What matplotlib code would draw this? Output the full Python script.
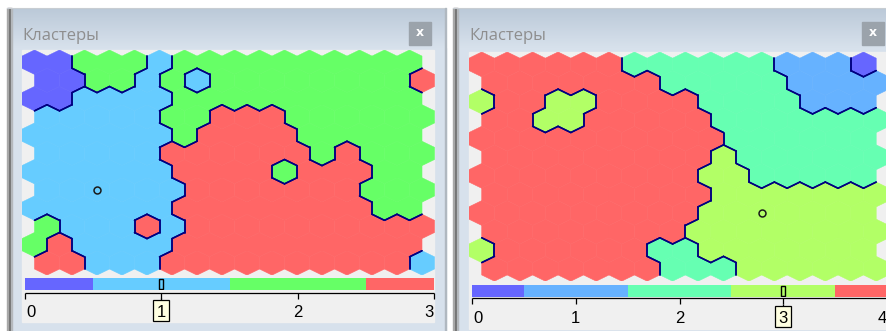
import matplotlib.pyplot as plt
import numpy as np
from matplotlib.collections import PolyCollection, LineCollection
from matplotlib.patches import Rectangle

W, H = 886, 331

title = 'Кластеры'

# cluster of every cell of the 16 x 12 map, top row first
left_cells = [
    [0, 0, 2, 2, 2, 1, 2, 2, 2, 2, 2, 2, 2, 2, 2, 2],
    [0, 0, 2, 2, 1, 2, 1, 2, 2, 2, 2, 2, 2, 2, 2, 3],
    [0, 0, 1, 1, 1, 1, 2, 2, 2, 2, 2, 2, 2, 2, 2, 2],
    [1, 1, 1, 1, 1, 2, 2, 3, 3, 3, 2, 2, 2, 2, 2, 2],
    [1, 1, 1, 1, 1, 1, 2, 3, 3, 3, 3, 2, 2, 2, 2, 2],
    [1, 1, 1, 1, 1, 3, 3, 3, 3, 3, 3, 2, 3, 2, 2, 2],
    [1, 1, 1, 1, 1, 1, 3, 3, 3, 3, 2, 3, 3, 3, 2, 2],
    [1, 1, 1, 1, 1, 1, 3, 3, 3, 3, 3, 3, 3, 2, 2, 2],
    [1, 1, 1, 1, 1, 1, 3, 3, 3, 3, 3, 3, 3, 3, 2, 2],
    [2, 1, 1, 1, 3, 1, 3, 3, 3, 3, 3, 3, 3, 3, 3, 3],
    [2, 3, 1, 1, 1, 1, 3, 3, 3, 3, 3, 3, 3, 3, 3, 3],
    [3, 3, 1, 1, 1, 3, 3, 3, 3, 3, 3, 3, 3, 3, 3, 1],
]
right_cells = [
    [4, 4, 4, 4, 4, 4, 2, 2, 2, 2, 2, 2, 1, 1, 1, 0],
    [4, 4, 4, 4, 4, 4, 4, 2, 2, 2, 2, 2, 1, 1, 1, 1],
    [3, 4, 4, 3, 3, 4, 4, 4, 4, 2, 2, 2, 2, 1, 1, 1],
    [4, 4, 3, 3, 4, 4, 4, 4, 4, 2, 2, 2, 2, 2, 2, 2],
    [4, 4, 4, 4, 4, 4, 4, 4, 4, 4, 2, 2, 2, 2, 2, 2],
    [4, 4, 4, 4, 4, 4, 4, 4, 4, 3, 2, 2, 2, 2, 2, 2],
    [4, 4, 4, 4, 4, 4, 4, 4, 4, 3, 3, 2, 2, 2, 2, 2],
    [4, 4, 4, 4, 4, 4, 4, 4, 4, 3, 3, 3, 3, 3, 3, 3],
    [4, 4, 4, 4, 4, 4, 4, 4, 4, 3, 3, 3, 3, 3, 3, 3],
    [4, 4, 4, 4, 4, 4, 4, 4, 3, 3, 3, 3, 3, 3, 3, 3],
    [3, 4, 4, 4, 4, 4, 4, 2, 2, 3, 3, 3, 3, 3, 3, 3],
    [4, 4, 4, 4, 4, 4, 4, 2, 2, 2, 3, 3, 3, 3, 3, 3],
]
left_colors = ['#6666FF', '#66CCFF', '#66FF66', '#FF6666']
right_colors = ['#6666FF', '#66B2FF', '#66FFB2', '#B2FF66', '#FF6666']

left_marker = (7, 2)     # row, col
right_marker = (8, 11)
left_selected = 1
right_selected = 3

ROW_STEP = 0.73
HEX_H = 0.974


def px(x0, y0, w, h):
    return [x0 / W, 1 - (y0 + h) / H, w / W, h / H]


def hex_center(r, c):
    return c + 0.5 * (r % 2), r * ROW_STEP


def hex_verts(cx, cy):
    return [(cx, cy - HEX_H / 2), (cx + .5, cy - HEX_H / 4), (cx + .5, cy + HEX_H / 4),
            (cx, cy + HEX_H / 2), (cx - .5, cy + HEX_H / 4), (cx - .5, cy - HEX_H / 4)]


def draw_map(ax, cells, colors, marker):
    nr, nc = len(cells), len(cells[0])
    polys, fcs, segs = [], [], []
    for r in range(nr):
        odd = r % 2
        for c in range(nc):
            k = cells[r][c]
            v = hex_verts(*hex_center(r, c))
            polys.append(v)
            fcs.append(colors[k])
            # neighbours across edges v0-v1, v1-v2, ... v5-v0
            nb = [(r - 1, c + odd), (r, c + 1), (r + 1, c + odd),
                  (r + 1, c - 1 + odd), (r, c - 1), (r - 1, c - 1 + odd)]
            for i, (rr, cc) in enumerate(nb):
                if 0 <= rr < nr and 0 <= cc < nc and cells[rr][cc] != k:
                    segs.append([v[i], v[(i + 1) % 6]])
    ax.add_collection(PolyCollection(polys, facecolors=fcs, edgecolors=fcs, linewidths=0.4))
    ax.add_collection(LineCollection(segs, colors='#000080', linewidths=1.1, capstyle='round'))
    mx, my = hex_center(*marker)
    ax.plot(mx, my, 'o', ms=5, mfc='none', mec='#1a1a1a', mew=1.1)
    ax.set_xlim(-0.5, nc)
    ax.set_ylim((nr - 1) * ROW_STEP + HEX_H / 2, -HEX_H / 2)
    ax.axis('off')


def panel(fig, bg, fx0, fx1, mx0, my0, hexw, cb_y, cb_h, ax_y, lab_base, gray_bot,
          cb_x0, cb_x1, cells, colors, marker, selected, btn_x):
    # window frame
    grad = np.linspace(0, 1, 60)[:, None]
    top = np.array([0xBB, 0xC9, 0xD8]) / 255
    bot = np.array([0xD7, 0xE1, 0xEC]) / 255
    img = top + (bot - top) * grad[:, :, None]
    img = np.repeat(img, 2, axis=1)
    bg.imshow(img, extent=[fx0 + 5, fx1, 48, 8], aspect='auto', zorder=1)
    bg.add_patch(Rectangle((fx0 + 5, 48), fx1 - fx0 - 5, H - 48, color='#D7E1EC', zorder=1))
    bg.add_patch(Rectangle((fx0 + 1, 7.5), 3, H, color='#6B6B6B', zorder=2))
    bg.add_patch(Rectangle((fx0, 7.5), 1, H, color='#A8A8A8', zorder=2))
    bg.add_patch(Rectangle((fx0 + 4, 7.5), 1.5, H, color='#B4B8BC', zorder=2))
    bg.plot([fx0, fx1], [7.5, 7.5], color='#C8CDD2', lw=0.8, zorder=2)
    bg.text(mx0, 40, title, fontsize=12, color='#8E8E8E', family='Open Sans',
            ha='left', va='baseline', zorder=3)
    bg.add_patch(Rectangle((btn_x, 21.5), 22, 23, color='#9BA3AB', zorder=3))
    bg.text(btn_x + 11, 33, 'x', fontsize=9, color='white', weight='bold',
            family='DejaVu Sans', ha='center', va='center', zorder=4)

    nr, nc = len(cells), len(cells[0])
    mw = (nc + 0.5) * hexw
    mh = ((nr - 1) * ROW_STEP + HEX_H) * hexw
    bg.add_patch(Rectangle((mx0, my0), fx1 + 40 - mx0 if fx1 >= W else mw, gray_bot - my0,
                           color='#F0F0F0', zorder=2))

    ax = fig.add_axes(px(mx0, my0, mw, mh))
    draw_map(ax, cells, colors, marker)

    n = len(colors)
    cw = cb_x1 - cb_x0
    cax = fig.add_axes(px(cb_x0, cb_y, cw, cb_h))
    for i in range(n):
        cax.axvspan(i - 0.5, i + 0.5, color=colors[i], lw=0)
    unit = cw / (n - 1)
    cax.add_patch(Rectangle((selected - 2 / unit, 0.06), 4 / unit, 0.88, fc='none',
                            ec='black', lw=1.0))
    cax.set_xlim(0, n - 1)
    cax.set_ylim(0, 1)
    cax.axis('off')

    tax = fig.add_axes(px(cb_x0, ax_y, cw, gray_bot - ax_y))
    tax.set_xlim(0, n - 1)
    tax.set_ylim(gray_bot, ax_y)
    tax.axis('off')
    tax.plot([0, n - 1], [ax_y + 0.5, ax_y + 0.5], color='black', lw=0.9, clip_on=False,
             solid_capstyle='butt')
    ticks = np.arange(n)
    tax.vlines(ticks, ax_y + 0.5, ax_y + 6.5, color='black', lw=0.9, clip_on=False)
    for t in ticks:
        ha = 'center'
        if t == 0:
            ha = 'left'
        elif t == n - 1:
            ha = 'right'
        tx = t + (1 / unit if t == 0 else 0)
        if t == selected:
            tax.vlines(t, ax_y + 6, ax_y + 8, color='black', lw=0.9, clip_on=False)
            tax.add_patch(Rectangle((t - 8 / unit, ax_y + 8), 16 / unit, 21, fc='#FFFFE1',
                                    ec='black', lw=0.9, clip_on=False))
        tax.text(tx, lab_base, str(t), fontsize=12, family='Liberation Sans',
                 ha=ha, va='baseline', color='black', clip_on=False)


fig = plt.figure(figsize=(W / 100, H / 100), dpi=100)
bg = fig.add_axes([0, 0, 1, 1])
bg.set_xlim(0, W)
bg.set_ylim(H, 0)
bg.axis('off')
bg.add_patch(Rectangle((0, 0), W, H, color='white', zorder=0))

panel(fig, bg, 7, 446, 22, 50, 25.0, 278, 12, 292, 317, 322, 25, 434,
      left_cells, left_colors, left_marker, left_selected, 409)
panel(fig, bg, 453, W + 10, 469, 52, 25.45, 285, 11.5, 298, 323, 329, 472, 887,
      right_cells, right_colors, right_marker, right_selected, 862)

bg.add_patch(Rectangle((445, 7.5), 1.2, H, color='#B0B8C0', zorder=2))

fig.savefig('out.png', dpi=100)
